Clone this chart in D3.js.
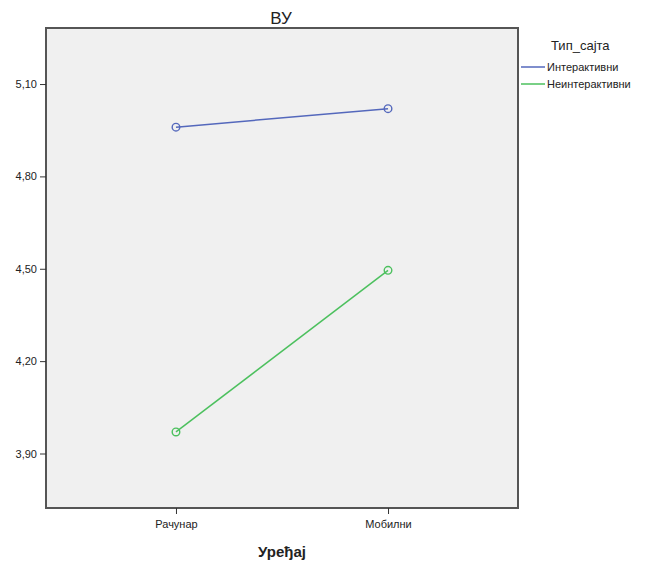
<!DOCTYPE html>
<html><head><meta charset="utf-8">
<script src="https://d3js.org/d3.v7.min.js"></script>
<style>body{margin:0;background:#fff}svg{display:block}text{font-family:Arial,"Liberation Sans",sans-serif}</style>
</head><body>
<script>
const categories = ["Рачунар", "Мобилни"];
const seriesNames = ["Интерактивни", "Неинтерактивни"];
const interaktivni = [4.96, 5.02];
const neinteraktivni = [3.97, 4.495];
const yTicks = [3.90, 4.20, 4.50, 4.80, 5.10];
const colors = ["#5468BC", "#4CC05E"];

(function () {
const W = 646, H = 562;
const svg = d3.select("body").append("svg").attr("width", W).attr("height", H);
const pL = 46, pR = 518, pT = 28, pB = 508;

const x = d3.scalePoint().domain(categories).range([pL, pR]).padding(0.613);
const y = d3.scaleLinear().domain([3.723, 5.282]).range([pB, pT]);

svg.append("rect").attr("x", pL).attr("y", pT).attr("width", pR - pL).attr("height", pB - pT)
  .attr("fill", "#f0f0f0").attr("stroke", "#555").attr("stroke-width", 2);

const yAxis = d3.axisLeft(y).tickValues(yTicks).tickSize(6).tickPadding(3)
  .tickFormat(d => d3.format(".2f")(d).replace(".", ","));
const gy = svg.append("g").attr("transform", `translate(${pL},0)`).call(yAxis);
gy.select(".domain").remove();
gy.selectAll("line").attr("stroke", "#333");
gy.selectAll("text").attr("font-size", 11).attr("fill", "#222");

const xAxis = d3.axisBottom(x).tickSize(6).tickPadding(6);
const gx = svg.append("g").attr("transform", `translate(0,${pB})`).call(xAxis);
gx.select(".domain").remove();
gx.selectAll("line").attr("stroke", "#333");
gx.selectAll("text").attr("font-size", 11).attr("fill", "#222");

const series = [interaktivni, neinteraktivni];
const line = d3.line().x((d, i) => x(categories[i])).y(d => y(d));
series.forEach((vals, s) => {
  svg.append("path").datum(vals).attr("d", line).attr("fill", "none")
    .attr("stroke", colors[s]).attr("stroke-width", 1.5);
  svg.selectAll(null).data(vals).enter().append("circle")
    .attr("cx", (d, i) => x(categories[i])).attr("cy", d => y(d)).attr("r", 3.8)
    .attr("fill", "none").attr("stroke", colors[s]).attr("stroke-width", 1.4);
});

svg.append("text").attr("x", 281).attr("y", 24).attr("text-anchor", "middle")
  .attr("font-size", 17).attr("fill", "#222").text("ВУ");
svg.append("text").attr("x", 282).attr("y", 557).attr("text-anchor", "middle")
  .attr("font-size", 15).attr("font-weight", "bold").attr("fill", "#222").text("Уређај");

svg.append("text").attr("x", 551).attr("y", 50).attr("font-size", 13).attr("fill", "#222").text("Тип_сајта");
seriesNames.forEach((n, i) => {
  const yy = 67 + i * 17;
  svg.append("line").attr("x1", 521).attr("x2", 545).attr("y1", yy).attr("y2", yy)
    .attr("stroke", colors[i]).attr("stroke-width", 1.5);
  svg.append("text").attr("x", 547).attr("y", yy + 4).attr("font-size", 11).attr("fill", "#222").text(n);
});
})();
</script>
</body></html>
